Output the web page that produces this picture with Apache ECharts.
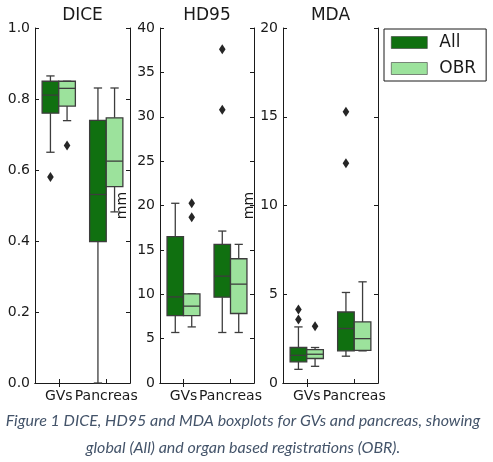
<!DOCTYPE html>
<html>
<head>
<meta charset="utf-8">
<script src="https://cdn.jsdelivr.net/npm/echarts@6/dist/echarts.min.js"></script>
<style>
  html, body { margin: 0; padding: 0; background: #fff; }
  #main { width: 493px; height: 462px; }
</style>
</head>
<body>
<div id="main"></div>
<script>
// categories on each x axis, and the two registrations
const categories = ['GVs', 'Pancreas'];
const hues = ['All', 'OBR'];
const panelTitles = ['DICE', 'HD95', 'MDA'];

// boxes: [lower whisker, Q1, median, Q3, upper whisker] per category
const diceAll = [[0.650, 0.760, 0.811, 0.850, 0.865], [0.0, 0.398, 0.531, 0.740, 0.831]];
const diceObr = [[0.739, 0.780, 0.830, 0.850, 0.850], [0.482, 0.553, 0.625, 0.747, 0.831]];
const hd95All = [[5.69, 7.60, 9.70, 16.50, 20.25], [5.69, 9.67, 12.04, 15.62, 17.12]];
const hd95Obr = [[6.32, 7.60, 8.66, 10.05, 10.05], [5.69, 7.83, 11.14, 14.00, 15.62]];
const mdaAll = [[0.77, 1.19, 1.56, 2.00, 3.16], [1.51, 1.81, 3.07, 4.00, 5.10]];
const mdaObr = [[0.94, 1.38, 1.62, 1.88, 2.00], [1.81, 1.84, 2.50, 3.44, 5.70]];

// outliers: [category index, value]
const diceAllOut = [[0, 0.580]];
const diceObrOut = [[0, 0.669]];
const hd95AllOut = [[1, 37.6], [1, 30.8]];
const hd95ObrOut = [[0, 20.25], [0, 18.67]];
const mdaAllOut = [[0, 4.14], [0, 3.58], [1, 15.28], [1, 12.38]];
const mdaObrOut = [[0, 3.2]];

// y axis ticks
const yMax = [1.0, 40, 20];
const yStep = [0.2, 5, 5];

const caption = 'Figure 1 DICE, HD95 and MDA boxplots for GVs and pancreas, showing\nglobal (All) and organ based registrations (OBR).';

const DARK = '#107010';
const LIGHT = '#9ce29c';
const LINE = '#3d3d3d';
const INK = '#1a1a1a';
const FONT = 'DejaVu Sans';

const grids = [
  { left: 35, width: 95, nameGap: 0 },
  { left: 160, width: 94, nameGap: 31 },
  { left: 283, width: 95, nameGap: 27 }
];

const chart = echarts.init(document.getElementById('main'));

function boxRenderer(side) {
  return function (params, api) {
    const band = api.size([1, 0])[0];
    const w = band * 0.35;
    const cx = api.coord([api.value(0), 0])[0] + side * band * 0.175;
    const y = i => api.coord([api.value(0), api.value(i)])[1];
    const lo = y(1), q1 = y(2), med = y(3), q3 = y(4), hi = y(5);
    const capW = w / 2;
    const ls = { stroke: LINE, lineWidth: 1.3 };
    return {
      type: 'group',
      children: [
        { type: 'line', shape: { x1: cx, y1: q1, x2: cx, y2: lo }, style: ls },
        { type: 'line', shape: { x1: cx, y1: q3, x2: cx, y2: hi }, style: ls },
        { type: 'line', shape: { x1: cx - capW / 2, y1: lo, x2: cx + capW / 2, y2: lo }, style: ls },
        { type: 'line', shape: { x1: cx - capW / 2, y1: hi, x2: cx + capW / 2, y2: hi }, style: ls },
        { type: 'rect', shape: { x: cx - w / 2, y: q3, width: w, height: q1 - q3 },
          style: { fill: api.visual('color'), stroke: LINE, lineWidth: 1.3 } },
        { type: 'line', shape: { x1: cx - w / 2, y1: med, x2: cx + w / 2, y2: med }, style: ls }
      ]
    };
  };
}

function outlierRenderer(side) {
  return function (params, api) {
    const band = api.size([1, 0])[0];
    const p = api.coord([api.value(0), api.value(1)]);
    const cx = p[0] + side * band * 0.175;
    const cy = p[1];
    return {
      type: 'polygon',
      shape: { points: [[cx, cy - 5], [cx + 3.3, cy], [cx, cy + 5], [cx - 3.3, cy]] },
      style: { fill: '#262626' }
    };
  };
}

const boxSets = [[diceAll, diceObr], [hd95All, hd95Obr], [mdaAll, mdaObr]];
const outSets = [[diceAllOut, diceObrOut], [hd95AllOut, hd95ObrOut], [mdaAllOut, mdaObrOut]];

const grid = [], xAxis = [], yAxis = [], series = [], graphic = [];
const axLine = { show: true, lineStyle: { color: INK, width: 1 } };
const tick = { show: true, inside: true, length: 4, lineStyle: { color: INK } };

grids.forEach((g, i) => {
  grid.push({ left: g.left, width: g.width, top: 28, height: 355 });
  // bottom and top x axes
  xAxis.push({
    type: 'category', gridIndex: i, data: categories, position: 'bottom',
    axisLine: axLine, axisTick: Object.assign({ alignWithLabel: true }, tick),
    axisLabel: { interval: 0, fontFamily: FONT, fontSize: 14, color: INK, margin: 6 },
    splitLine: { show: false }
  });
  xAxis.push({
    type: 'category', gridIndex: i, data: categories, position: 'top',
    axisLine: axLine, axisTick: Object.assign({ alignWithLabel: true }, tick),
    axisLabel: { show: false }, splitLine: { show: false }
  });
  const left = {
    type: 'value', gridIndex: i, position: 'left', min: 0, max: yMax[i], interval: yStep[i],
    axisLine: axLine, axisTick: tick,
    axisLabel: {
      fontFamily: FONT, fontSize: 14, color: INK, margin: 5,
      formatter: i === 0 ? (v => v.toFixed(1)) : (v => String(v))
    },
    splitLine: { show: false }
  };
  if (i > 0) {
    left.name = 'mm';
    left.nameLocation = 'middle';
    left.nameGap = g.nameGap;
    left.nameTextStyle = { fontFamily: FONT, fontSize: 14, color: INK };
  }
  yAxis.push(left);
  yAxis.push({
    type: 'value', gridIndex: i, position: 'right', min: 0, max: yMax[i], interval: yStep[i],
    axisLine: axLine, axisTick: tick,
    axisLabel: { show: false }, splitLine: { show: false }
  });

  hues.forEach((h, k) => {
    const side = k === 0 ? -1 : 1;
    series.push({
      type: 'custom', name: h, xAxisIndex: 2 * i, yAxisIndex: 2 * i,
      itemStyle: { color: k === 0 ? DARK : LIGHT },
      renderItem: boxRenderer(side),
      encode: { x: 0, y: [1, 2, 3, 4, 5] },
      data: boxSets[i][k].map((b, c) => [c].concat(b))
    });
    series.push({
      type: 'custom', name: h + ' outliers', xAxisIndex: 2 * i, yAxisIndex: 2 * i,
      renderItem: outlierRenderer(side),
      encode: { x: 0, y: 1 },
      data: outSets[i][k],
      z: 3
    });
  });

  graphic.push({
    type: 'text', x: g.left + g.width / 2, y: 16,
    style: { text: panelTitles[i], font: '17px "' + FONT + '"', fill: INK,
      align: 'center', verticalAlign: 'middle' }
  });
});

graphic.push({
  type: 'text', x: 243, y: 434,
  style: {
    text: caption, font: 'italic 16px Lato', fill: '#44546a',
    align: 'center', verticalAlign: 'middle', lineHeight: 27
  }
});

chart.setOption({
  animation: false,
  backgroundColor: '#fff',
  grid: grid,
  xAxis: xAxis,
  yAxis: yAxis,
  legend: {
    data: hues, orient: 'vertical', left: 384, top: 29,
    padding: [5, 10, 4, 7], itemGap: 9, itemWidth: 36, itemHeight: 12,
    icon: 'rect', borderColor: INK, borderWidth: 1,
    itemStyle: { borderColor: LINE, borderWidth: 0.6 },
    textStyle: { fontFamily: FONT, fontSize: 17, color: INK, lineHeight: 17, padding: [0, 0, 0, 7] }
  },
  graphic: graphic,
  series: series
});
</script>
</body>
</html>
